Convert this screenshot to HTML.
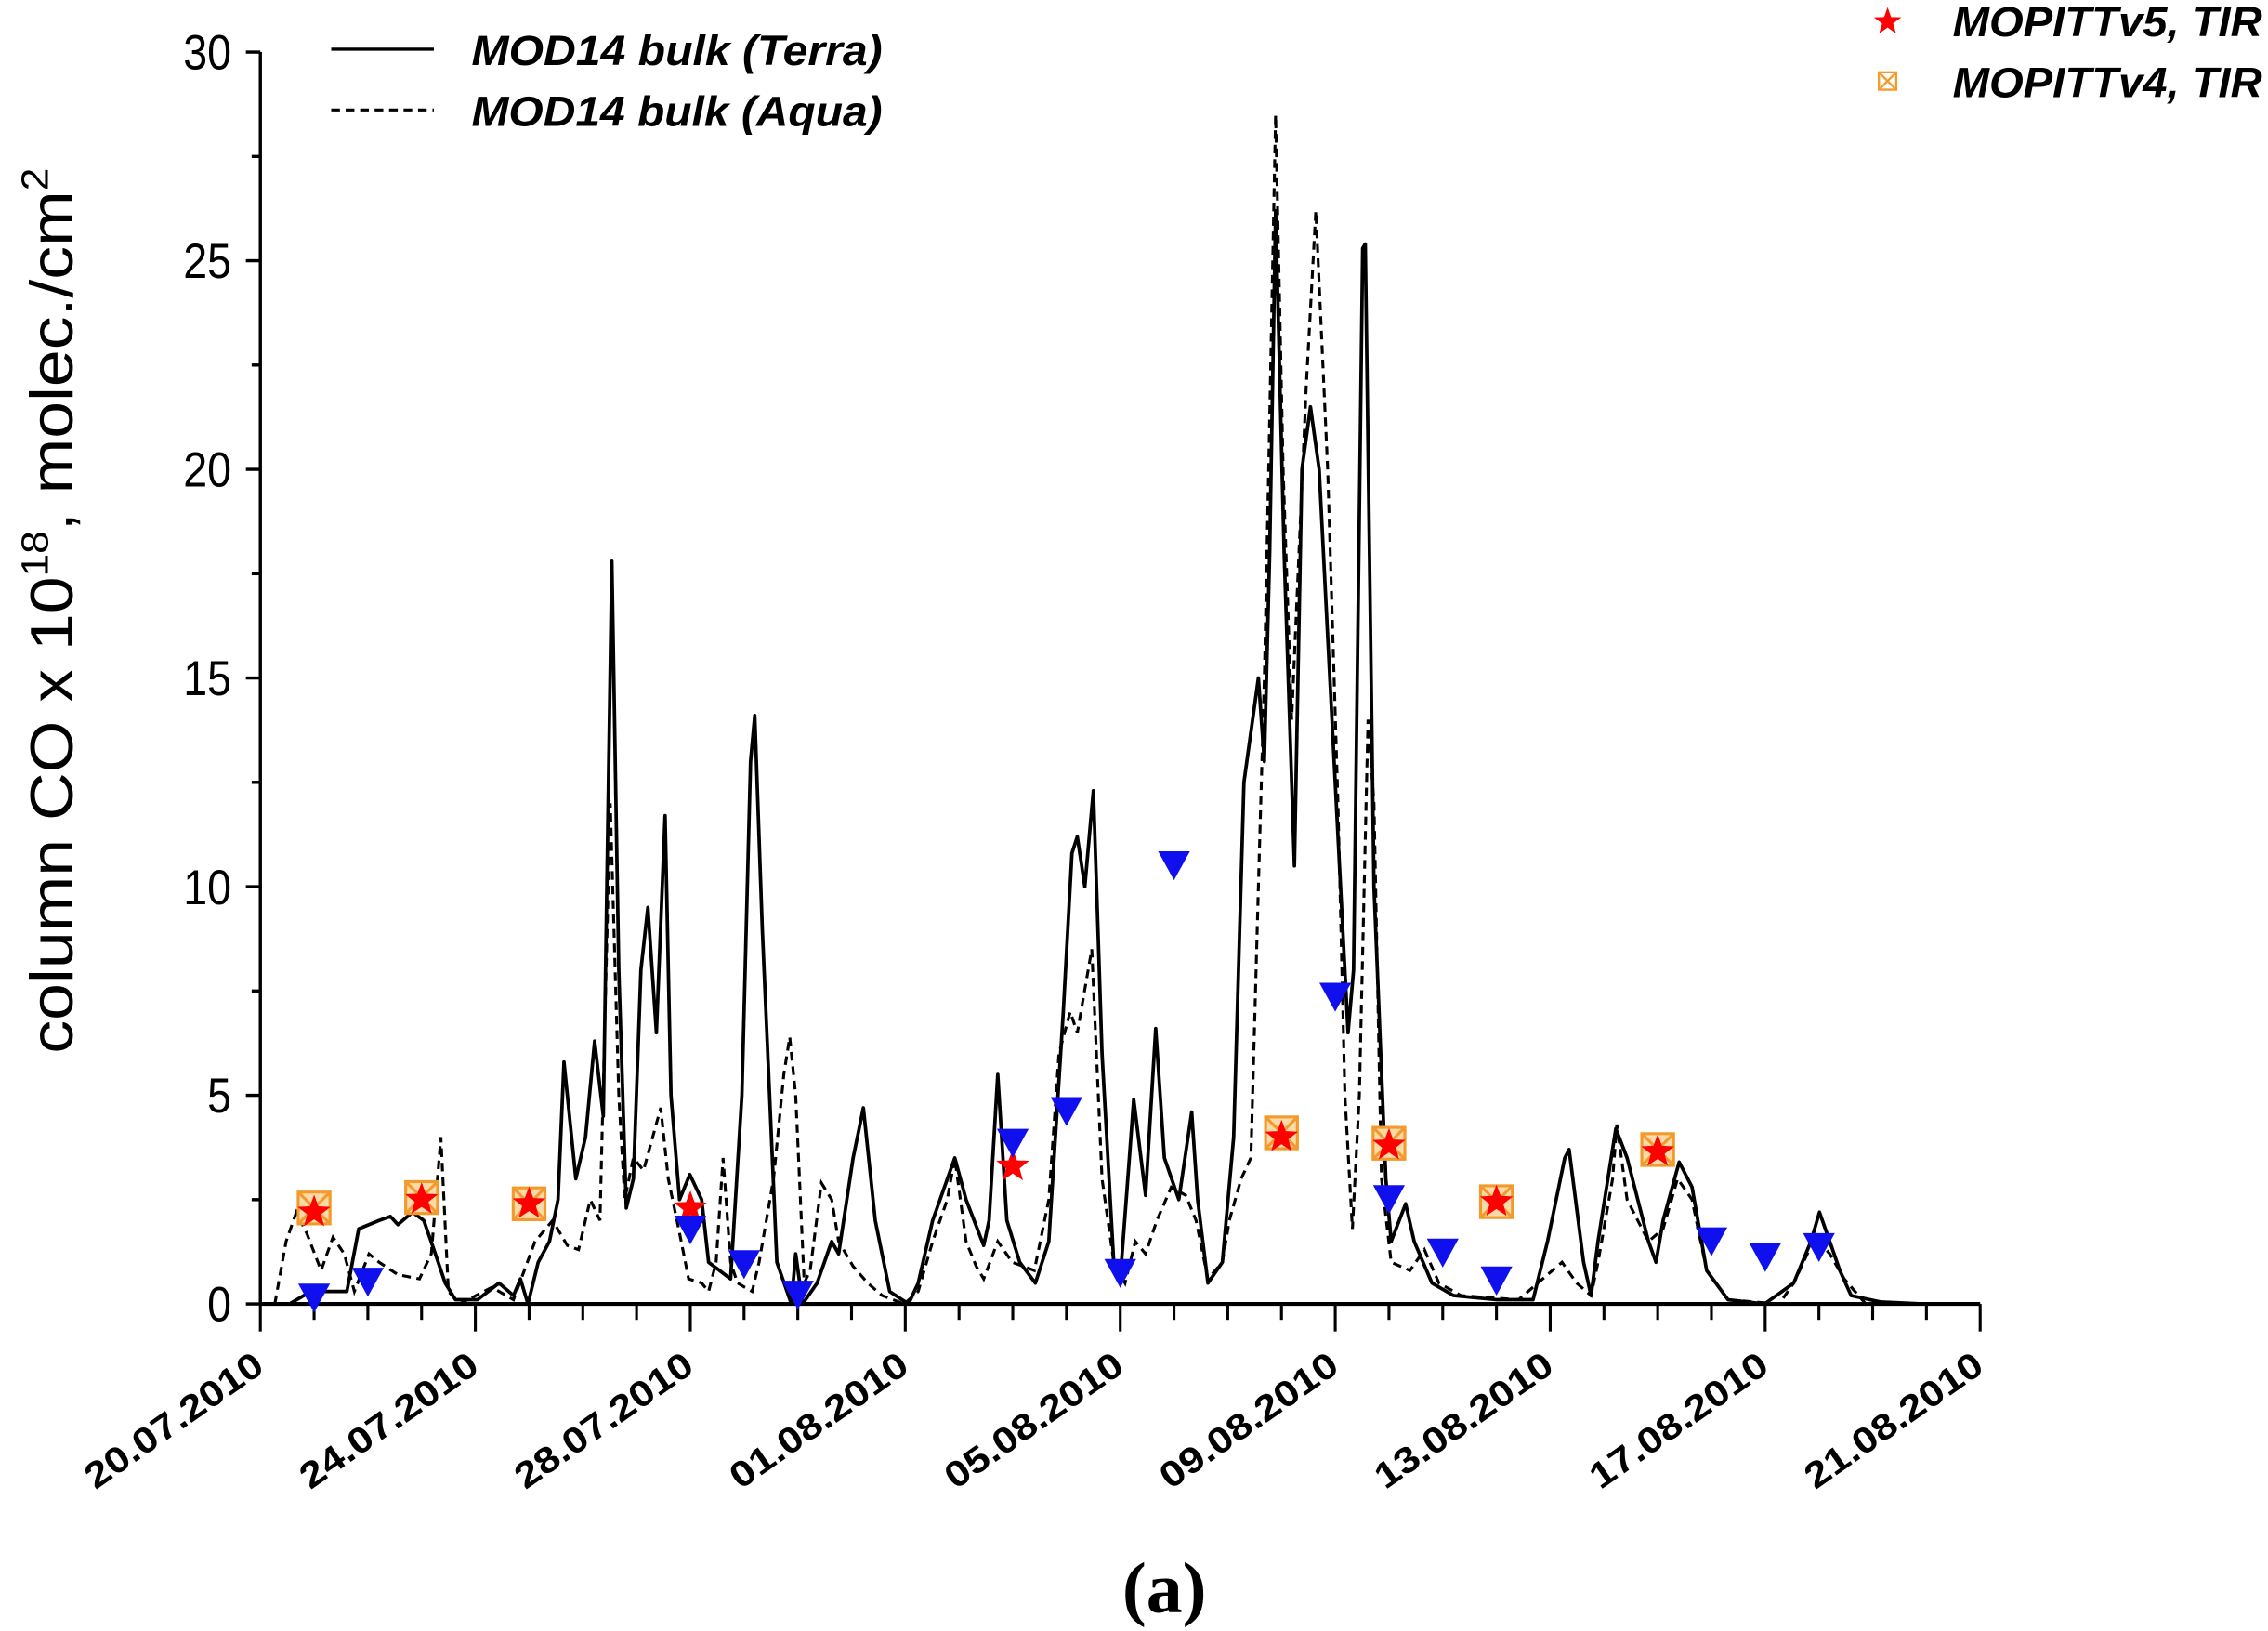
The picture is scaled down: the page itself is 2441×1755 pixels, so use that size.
<!DOCTYPE html>
<html><head><meta charset="utf-8"><style>
html,body{margin:0;padding:0;background:#fff;width:2441px;height:1755px;overflow:hidden}
svg{display:block}
text{font-family:"Liberation Sans",Arial,sans-serif}
</style></head><body>
<svg id="chart" width="2441" height="1755" viewBox="0 0 1568 1127" preserveAspectRatio="none" xmlns="http://www.w3.org/2000/svg">
<g id="axes"></g>
<g id="series"></g>
<g id="markers"></g>
<g>
<line x1="229" y1="34" x2="300" y2="34" stroke="#000" stroke-width="2.2"/>
<text x="326" y="45" font-size="29" font-weight="bold" font-style="italic" textLength="284" lengthAdjust="spacingAndGlyphs">MOD14 bulk (Terra)</text>
<line x1="229" y1="76" x2="300" y2="76" stroke="#000" stroke-width="2" stroke-dasharray="6,4"/>
<text x="326" y="87" font-size="29" font-weight="bold" font-style="italic" textLength="284" lengthAdjust="spacingAndGlyphs">MOD14 bulk (Aqua)</text>
</g>
<g>
<polygon points="1305,5 1307.4,11.8 1314.5,12 1308.8,16.3 1310.9,23.2 1305,19 1299.1,23.2 1301.2,16.3 1295.5,12 1302.6,11.8" fill="#f00"/>
<text x="1350" y="25" font-size="29" font-weight="bold" font-style="italic" textLength="214" lengthAdjust="spacingAndGlyphs">MOPITTv5, TIR</text>
<g stroke="#f39a2a" stroke-width="1.5" fill="none">
<rect x="1299" y="50" width="12" height="12"/><line x1="1299" y1="50" x2="1311" y2="62"/><line x1="1311" y1="50" x2="1299" y2="62"/></g>
<text x="1350" y="67" font-size="29" font-weight="bold" font-style="italic" textLength="214" lengthAdjust="spacingAndGlyphs">MOPITTv4, TIR</text>
</g>
<text transform="translate(50,422) rotate(-90)" text-anchor="middle" font-size="42" textLength="612" lengthAdjust="spacingAndGlyphs">column CO x 10<tspan dy="-17" font-size="26">18</tspan><tspan dy="17">, molec./cm</tspan><tspan dy="-17" font-size="26">2</tspan></text>
<text x="805" y="1114" text-anchor="middle" font-size="50" font-weight="bold" style="font-family:'Liberation Serif',serif">(a)</text>
</svg>
<script>
// x = days since 20.07.2010
const terraDays=[0.54,0.94,1.61,1.83,2.21,2.42,2.56,2.83,3.04,3.23,3.44,3.63,4.04,4.44,4.71,4.84,4.98,5.17,5.38,5.54,5.65,5.87,6.05,6.22,6.38,6.54,6.67,6.81,6.94,7.08,7.21,7.37,7.53,7.64,7.80,7.99,8.21,8.34,8.75,8.96,9.12,9.20,9.34,9.61,9.88,9.96,10.09,10.36,10.63,10.76,11.03,11.22,11.44,11.71,12.06,12.24,12.51,12.92,13.13,13.46,13.56,13.72,13.89,14.13,14.42,14.67,14.94,15.10,15.20,15.34,15.50,15.66,15.88,16.01,16.17,16.25,16.47,16.66,16.82,17.09,17.33,17.44,17.63,17.90,18.11,18.30,18.57,18.68,18.78,18.89,19.05,19.24,19.38,19.54,19.70,19.86,20.24,20.34,20.51,20.56,20.72,20.94,21.04,21.31,21.47,21.80,22.20,23.01,23.68,23.95,24.27,24.35,24.62,24.76,24.89,25.22,25.43,25.83,25.97,26.10,26.40,26.64,26.91,27.31,27.99,28.53,28.85,29.01,29.20,29.39,29.60,30.14,30.95];
const terraVals=[0,0.3,0.3,1.8,2.0,2.1,1.9,2.2,2.0,1.3,0.5,0.1,0.1,0.5,0.2,0.6,0,1.0,1.5,2.5,5.8,3.0,4.0,6.3,4.5,17.8,8,2.3,3,8,9.5,6.5,11.7,5,2.5,3.1,2.5,1,0.6,5,13,14.1,9,1,0,1.2,0,0.5,1.5,1.2,3.5,4.7,2,0.3,0,0.5,2,3.5,2.5,1.4,2,5.5,2,1,0.5,1.5,7,10.8,11.2,10,12.3,6,1,0.8,3.5,4.9,2.6,6.6,3.5,2.5,4.6,2.5,0.5,1,4,12.5,15,13,18,26.2,18,10.5,20,21.5,20,16,6.5,8,25.3,25.4,10,3,1.5,2.4,1.5,0.5,0.2,0.1,0.1,1.5,3.5,3.7,1,0.2,1.5,4.2,3.5,1.5,1.0,2,3.4,2.8,0.8,0.1,0,0.5,1.5,2.2,1.5,0.8,0.2,0.05,0];
const aquaDays=[0.27,0.48,0.67,0.86,1.13,1.35,1.56,1.75,2.02,2.21,2.56,2.96,3.18,3.36,3.50,3.71,4.31,4.71,5.11,5.44,5.71,5.92,6.14,6.32,6.51,6.67,6.78,6.94,7.13,7.45,7.59,7.80,7.97,8.21,8.34,8.48,8.61,8.75,8.88,9.15,9.28,9.55,9.74,9.85,9.96,10.12,10.23,10.44,10.63,10.76,11.03,11.30,11.57,11.98,12.24,12.51,12.78,12.92,13.13,13.32,13.46,13.72,13.99,14.40,14.67,14.86,15.07,15.20,15.47,15.66,15.88,16.09,16.28,16.47,16.68,16.95,17.22,17.41,17.63,17.90,18.03,18.25,18.43,18.57,18.68,18.76,18.89,19.03,19.19,19.46,19.64,19.86,20.05,20.18,20.32,20.45,20.61,20.72,20.86,21.04,21.39,21.66,21.93,22.34,23.41,23.95,24.22,24.49,24.76,24.89,25.16,25.24,25.43,25.83,26.10,26.37,26.64,26.91,27.31,28.26,28.53,28.93,29.20,29.47,29.87];
const aquaVals=[0,1.5,2.2,1.7,0.8,1.6,1.2,0.3,1.2,1.0,0.7,0.6,1.2,4,0.3,0,0.4,0.1,1.5,2,1.4,1.3,2.5,2,12,5,2.5,3.5,3.2,4.7,3,1.7,0.6,0.5,0.3,1,3.5,1.0,0.5,0.3,1,3,5.5,6.4,5,0.5,0.8,2.9,2.5,1.5,0.9,0.5,0.2,0,0.3,1.5,2.5,3.5,1.5,0.9,0.6,1.5,1,0.8,2.5,6,7,6.5,8.5,3,1,0.5,1.5,1.2,2,2.8,2.6,2,0.6,1.0,2,3,3.5,10,15,20,28.5,20,14,22,26.2,20,12,5,1.8,5,14,12,3,1,0.8,1.3,0.5,0.2,0.1,0.7,1,0.5,0.2,1,3,4.3,2.5,1.5,1.8,3,2.5,0.8,0.1,0,0.5,1.6,1.2,0.6,0];
const triDays=[1,2,8,9,10,14,15,16,17,20,21,22,23,27,28,29];
const triVals=[0.14,0.52,1.77,0.94,0.21,3.85,4.61,0.73,10.5,7.35,2.5,1.22,0.55,1.49,1.11,1.35];
const v5Days=[1,3,5,8,14,19,21,23,26];
const v5Vals=[2.2,2.5,2.4,2.3,3.3,4.0,3.8,2.45,3.65];
const v4Days=[1,3,5,19,21,23,26];
const v4Vals=[2.3,2.55,2.4,4.1,3.85,2.45,3.7];
const yTicks=[0,5,10,15,20,25,30];
const xTickLabels=["20.07.2010","24.07.2010","28.07.2010","01.08.2010","05.08.2010","09.08.2010","13.08.2010","17.08.2010","21.08.2010"];

const NS="http://www.w3.org/2000/svg";
const X0=180,X1=1369,Y0=901,Y1=36,DMAX=32,VMAX=30;
function sx(d){return X0+(X1-X0)*d/DMAX;}
function sy(v){return Y0-(Y0-Y1)*v/VMAX;}
function mk(tag,attrs,parent){const e=document.createElementNS(NS,tag);for(const k in attrs)e.setAttribute(k,attrs[k]);parent.appendChild(e);return e;}
const axes=document.getElementById('axes'),series=document.getElementById('series'),markers=document.getElementById('markers');

let e=mk('line',{x1:X0,y1:Y1,x2:X0,y2:Y0,stroke:'#000','stroke-width':2.2},axes);


e=mk('line',{x1:X0,y1:Y0,x2:X1,y2:Y0,stroke:'#000','stroke-width':2.6},axes);


for(let v=0;v<=VMAX;v+=2.5){const major=v%5===0;
 e=mk('line',{x1:X0-(major?10:6),y1:sy(v),x2:X0,y2:sy(v),stroke:'#000','stroke-width':2.2},axes);
 
 }
yTicks.forEach(v=>{const x=X0-20,y=sy(v)+12;
 e=mk('text',{x:x,y:y,'text-anchor':'end','font-size':34,transform:`translate(${x} 0) scale(0.88 1) translate(${-x} 0)`},axes);e.textContent=v;
 
 });
for(let d=0;d<=DMAX;d++){const major=d%4===0;
 e=mk('line',{x1:sx(d),y1:Y0,x2:sx(d),y2:Y0+(major?19:11),stroke:'#000','stroke-width':2},axes);
 
 }
xTickLabels.forEach((t,i)=>{const x=sx(i*4)+4,y=Y0+46;
 e=mk('text',{x:x,y:y,'text-anchor':'end','font-size':25,'font-weight':'bold',transform:`rotate(-35 ${x} ${y})`,textLength:144,lengthAdjust:'spacingAndGlyphs'},axes);e.textContent=t;
 
 });

function pathOf(ds,vs){return ds.map((d,i)=>(i?'L':'M')+sx(d).toFixed(1)+','+sy(vs[i]).toFixed(1)).join('');}
e=mk('path',{d:pathOf(aquaDays,aquaVals),fill:'none',stroke:'#000','stroke-width':2,'stroke-dasharray':'6,4'},series);


e=mk('path',{d:pathOf(terraDays,terraVals),fill:'none',stroke:'#000','stroke-width':2.4,'stroke-linejoin':'round'},series);



v4Days.forEach((d,i)=>{const x=sx(d),y=sy(v4Vals[i]);
 const g=mk('g',{stroke:'#f39a2a','stroke-width':2,fill:'none'},markers);
 mk('rect',{x:x-11,y:y-11,width:22,height:22,fill:'#fbd9a8'},g);
 mk('line',{x1:x-11,y1:y-11,x2:x+11,y2:y+11},g);mk('line',{x1:x+11,y1:y-11,x2:x-11,y2:y+11},g);
 
 });
v5Days.forEach((d,i)=>{const x=sx(d),y=sy(v5Vals[i]);let p=[];
 for(let k=0;k<10;k++){const r=k%2?5:12,a=-Math.PI/2+k*Math.PI/5;p.push((x+r*Math.cos(a)).toFixed(1)+','+(y+r*Math.sin(a)).toFixed(1));}
 e=mk('polygon',{points:p.join(' '),fill:'#f00'},markers);
 
 });
triDays.forEach((d,i)=>{const x=sx(d),y=sy(triVals[i]);
 e=mk('polygon',{points:`${x-11},${y-10} ${x+11},${y-10} ${x},${y+10}`,fill:'#1010ee'},markers);
 
 });
</script>
</body></html>
